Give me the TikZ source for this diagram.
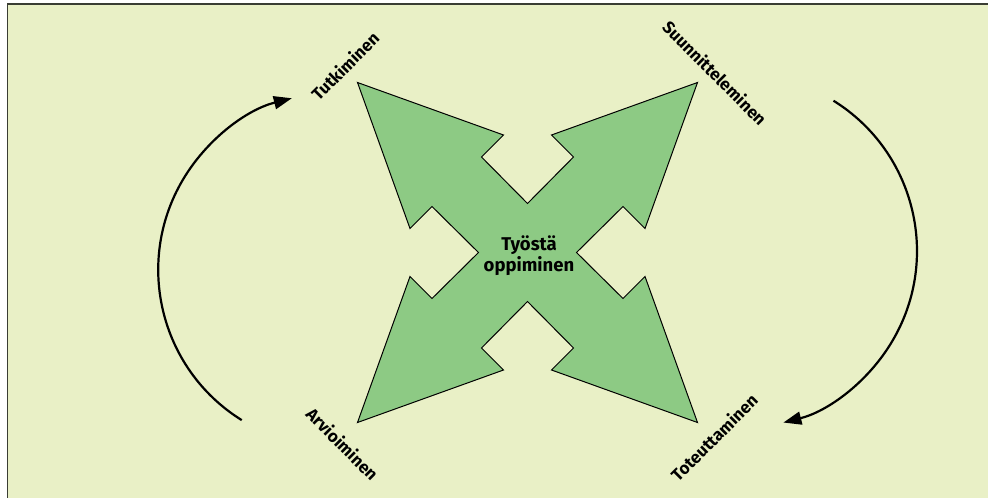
\documentclass[tikz,border=0pt]{standalone}
\usepackage{fontspec}
\setmainfont{Fira Sans}
\usetikzlibrary{arrows.meta}
\definecolor{bgcol}{HTML}{E9F0C6}
\definecolor{starcol}{HTML}{8DCA84}
\definecolor{framecol}{HTML}{3A3D33}
\tikzset{
  lbl/.style={font=\fontsize{17}{19}\selectfont\bfseries, inner sep=0pt, text=black},
  hubtext/.style={font=\fontsize{18.5}{21}\selectfont\bfseries, align=center, inner sep=0pt},
  star/.style={fill=starcol, draw=black, line width=1pt, line join=miter},
  cyc/.style={draw=black, line width=2.2pt, -{Triangle[length=18pt,width=13pt]}},
}
\begin{document}
\begin{tikzpicture}[x=1pt,y=-1pt]
\useasboundingbox (0,0) rectangle (988,498);
% background panel
\fill[bgcol] (7,3.5) rectangle (988,498);
\draw[framecol, line width=1.6pt] (7.5,498) -- (7.5,4.2) -- (988,4.2);

% central four-headed arrow
\begin{scope}[shift={(527.5,252.5)}]
\def\a{170}\def\b{117.5}\def\c{24}\def\d{95.5}\def\e{46}\def\f{49}
\draw[star] (-\a,-\a) -- (-\c,-\b) -- (-\e,-\d) -- (0,-\f) -- (\e,-\d) -- (\c,-\b)
  -- (\a,-\a) -- (\b,-\c) -- (\d,-\e) -- (\f,0) -- (\d,\e) -- (\b,\c)
  -- (\a,\a) -- (\c,\b) -- (\e,\d) -- (0,\f) -- (-\e,\d) -- (-\c,\b)
  -- (-\a,\a) -- (-\b,\c) -- (-\d,\e) -- (-\f,0) -- (-\d,-\e) -- (-\b,-\c) -- cycle;
\end{scope}
\node[hubtext] (hub) at (529,256) {Työstä\\oppiminen};

% labels
\node[lbl, rotate=45]  (tut) at (345,66)    {Tutkiminen};
\node[lbl, rotate=-45] (suu) at (715,73)    {Suunnitteleminen};
\node[lbl, rotate=-45] (arv) at (342.5,444) {Arvioiminen};
\node[lbl, rotate=45]  (tot) at (714,437.5) {Toteuttaminen};

% cycle arrows
\coordinate (lstart) at (241.7,420.1);
\coordinate (rstart) at (833.5,100.7);
\draw[cyc] (lstart) arc[start angle=121.9, end angle=255.8, radius=177];
\draw[cyc] (rstart) arc[start angle=-58.1, end angle=75.8, radius=177];
\end{tikzpicture}
\end{document}
